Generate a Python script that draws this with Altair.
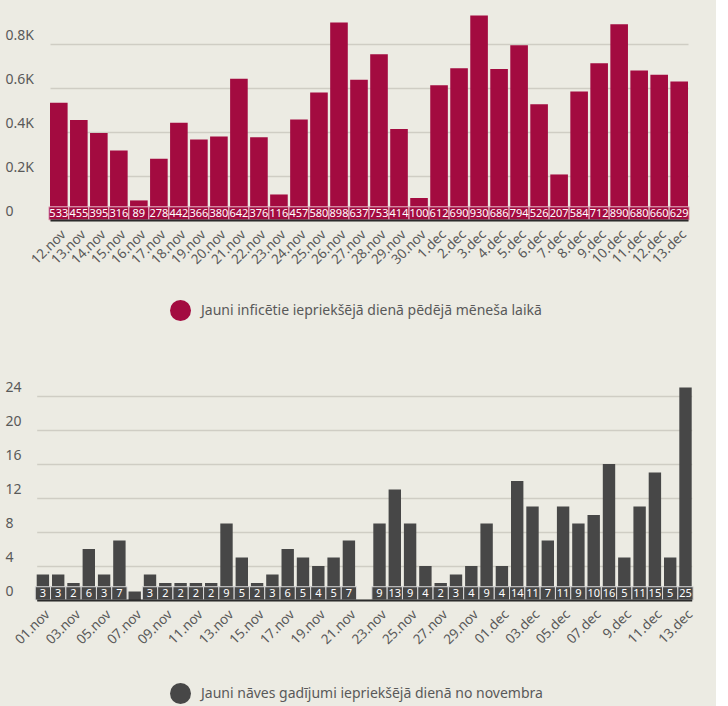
import altair as alt
import pandas as pd

# ---------------- data ----------------
inf_days = ["12.nov", "13.nov", "14.nov", "15.nov", "16.nov", "17.nov", "18.nov", "19.nov",
            "20.nov", "21.nov", "22.nov", "23.nov", "24.nov", "25.nov", "26.nov", "27.nov",
            "28.nov", "29.nov", "30.nov", "1.dec", "2.dec", "3.dec", "4.dec", "5.dec",
            "6.dec", "7.dec", "8.dec", "9.dec", "10.dec", "11.dec", "12.dec", "13.dec"]
inf_values = [533, 455, 395, 316, 89, 278, 442, 366, 380, 642, 376, 116, 457, 580, 898, 637,
              753, 414, 100, 612, 690, 930, 686, 794, 526, 207, 584, 712, 890, 680, 660, 629]
inf_series = "Jauni inficētie iepriekšējā dienā pēdējā mēneša laikā"
inf_ticks = [0, 200, 400, 600, 800]

death_days = ["01.nov", "02.nov", "03.nov", "04.nov", "05.nov", "06.nov", "07.nov", "08.nov",
              "09.nov", "10.nov", "11.nov", "12.nov", "13.nov", "14.nov", "15.nov", "16.nov",
              "17.nov", "18.nov", "19.nov", "20.nov", "21.nov", "22.nov", "23.nov", "24.nov",
              "25.nov", "26.nov", "27.nov", "28.nov", "29.nov", "30.nov", "01.dec", "02.dec",
              "03.dec", "04.dec", "05.dec", "06.dec", "07.dec", "08.dec", "9.dec", "10.dec",
              "11.dec", "12.dec", "13.dec"]
death_values = [3, 3, 2, 6, 3, 7, 1, 3, 2, 2, 2, 2, 9, 5, 2, 3, 6, 5, 4, 5, 7, 0,
                9, 13, 9, 4, 2, 3, 4, 9, 4, 14, 11, 7, 11, 9, 10, 16, 5, 11, 15, 5, 25]
death_series = "Jauni nāves gadījumi iepriekšējā dienā no novembra"
death_ticks = [0, 4, 8, 12, 16, 20, 24]
death_axis_labels = death_days[0::2]

# ---------------- style ----------------
BG = "#ecebe3"
FONT = "Noto Sans"
RED = "#a30b40"
GREY = "#474747"
GRID = "#cfcdc4"
TXT = "#595959"


def panel(days, values, series, ticks, color, ymax, height, xrange, pad_inner, label_vals,
          box_units, min_label, legend_y, label_expr, sep_color):
    df = pd.DataFrame({"day": days, "value": values, "series": series})
    xscale = alt.Scale(domain=days, range=xrange, paddingInner=pad_inner, paddingOuter=0)
    x = alt.X("day:N", sort=days, scale=xscale,
              axis=alt.Axis(title=None, labelAngle=-45, ticks=False, tickSize=0,
                            domainColor="#2b2b2b", domainWidth=2, grid=False, zindex=1,
                            labelColor=TXT, labelFontSize=13.5, labelFont=FONT,
                            labelPadding=7, values=label_vals, labelOverlap=False))
    y = alt.Y("value:Q", scale=alt.Scale(domain=[0, ymax], nice=False),
              axis=alt.Axis(title=None, values=ticks, tickCount=len(ticks) + 2,
                            labelExpr=label_expr, grid=True,
                            gridColor=GRID, gridWidth=1.5, domain=False, ticks=False,
                            tickSize=0, labelAlign="left", labelBaseline="bottom",
                            labelPadding=0, labelOffset=-2, labelColor=TXT,
                            labelFontSize=14, labelFont=FONT, labelOverlap=False))
    bars = alt.Chart(df).transform_filter("datum.value > 0").mark_bar().encode(
        x=x, y=y,
        color=alt.Color("series:N", scale=alt.Scale(range=[color]),
                        legend=alt.Legend(title=None, orient="none", legendX=165,
                                          legendY=legend_y, symbolType="circle",
                                          symbolSize=440, symbolStrokeWidth=0,
                                          labelFontSize=14, labelFont=FONT, labelOffset=10,
                                          labelColor=TXT, labelLimit=600, padding=0)))
    lab = df[df["value"] >= min_label]
    boxes = alt.Chart(lab).mark_bar(color=color, stroke=sep_color, strokeWidth=1,
                                    width=alt.RelativeBandSize(1.0 / (1 - pad_inner))).encode(
        x=alt.X("day:N", sort=days), y=alt.datum(0), y2=alt.datum(box_units))
    text = alt.Chart(lab).mark_text(baseline="bottom", dy=-1, color="white", fontSize=11,
                                    font=FONT).encode(
        x=alt.X("day:N", sort=days), y=alt.datum(0), text="value:Q")
    return alt.layer(bars, boxes, text).properties(width=702, height=height)


top = panel(inf_days, inf_values, inf_series, inf_ticks, RED, 1000, 220,
            [45, 683], 0.12, inf_days, 60, 0, 300,
            "datum.value == 0 ? '0' : format(datum.value / 1000, '.1f') + 'K'", "#e7b9c9")
bottom = panel(death_days, death_values, death_series, death_ticks, GREY, 26, 221,
               [31.7, 686.7], 0.19, death_axis_labels, 1.56, 2, 304,
               "datum.label", "#d9d9d9")

chart = alt.vconcat(top, bottom, spacing=58).resolve_scale(color="independent").properties(
    background=BG, padding={"left": 5, "top": 0, "right": 9, "bottom": 2}
).configure_view(stroke=None)

chart.save("out.html", embed_options={"renderer": "svg", "actions": False})
